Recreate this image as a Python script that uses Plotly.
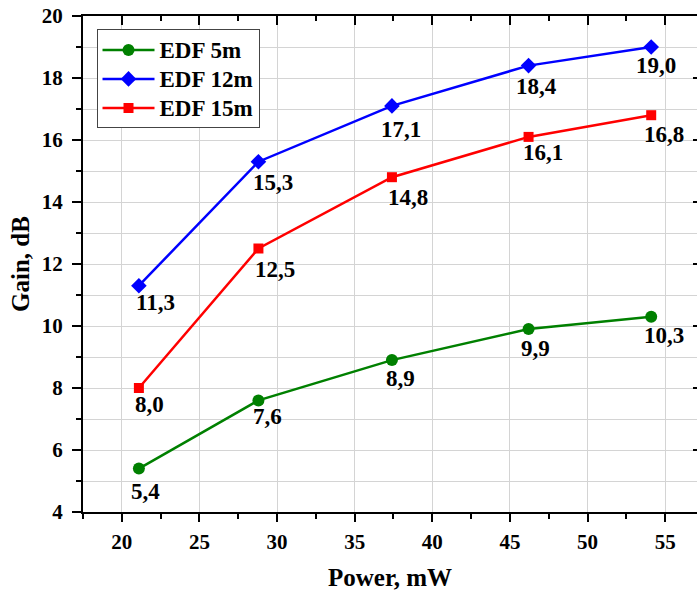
import plotly.graph_objects as go

# Pump power (mW) and measured gain (dB) for three erbium-doped fibre lengths
power_mw = [21.1, 28.8, 37.4, 46.2, 54.1]
gain_5m = [5.4, 7.6, 8.9, 9.9, 10.3]
gain_12m = [11.3, 15.3, 17.1, 18.4, 19.0]
gain_15m = [8.0, 12.5, 14.8, 16.1, 16.8]

series_names = ["EDF 5m", "EDF 12m", "EDF 15m"]
series_values = [gain_5m, gain_12m, gain_15m]

# Styling per series: colour, marker symbol, marker size
series_style = {
    "EDF 5m": ("#008000", "circle", 12),
    "EDF 12m": ("#0000FF", "diamond", 12),
    "EDF 15m": ("#FF0000", "square", 10),
}

# Hand-placed value labels: (horizontal, vertical) pixel nudges from each point
label_nudge = {
    "EDF 5m": [(7, 17), (9, 11), (9, 13), (7, 14), (13, 13)],
    "EDF 12m": [(17, 11), (15, 15), (9, 18), (8, 15), (5, 13)],
    "EDF 15m": [(11, 11), (17, 15), (16, 15), (14, 10), (13, 14)],
}

FONT = "Liberation Serif, Times New Roman, serif"
X_RANGE = [17.5, 57.05]
Y_RANGE = [4, 20]
GRID = "#d4d4d4"

fig = go.Figure()

for name, values in zip(series_names, series_values):
    color, symbol, size = series_style[name]
    fig.add_trace(go.Scatter(
        x=power_mw, y=values, mode="lines+markers",
        # legend rows are spaced by legend.font; the entry text is set a bit larger
        name=f'<span style="font-size:23px">{name}</span>',
        line=dict(color=color, width=2.5),
        marker=dict(color=color, symbol=symbol, size=size, line=dict(width=0)),
    ))

# Invisible trace so the mirrored (top/right) axes are drawn
fig.add_trace(go.Scatter(x=[], y=[], xaxis="x2", yaxis="y2",
                         showlegend=False, hoverinfo="skip"))

# Value labels under each point, decimal comma
annotations = []
for name, values in zip(series_names, series_values):
    for (xv, yv), (dx, dy) in zip(zip(power_mw, values), label_nudge[name]):
        annotations.append(dict(
            x=xv, y=yv, xref="x", yref="y",
            text=f"{yv:.1f}".replace(".", ","),
            showarrow=False, xanchor="center", yanchor="top",
            xshift=dx, yshift=-(dy - 9),
            font=dict(family=FONT, size=23, color="black", weight="bold"),
        ))

tick_font = dict(family=FONT, size=21, color="black", weight="bold")
title_font = dict(family=FONT, size=25, color="black", weight="bold")

fig.update_layout(
    width=697, height=594,
    margin=dict(l=83, r=0, t=16, b=82),
    paper_bgcolor="white", plot_bgcolor="white",
    annotations=annotations,
    xaxis=dict(
        range=X_RANGE, tick0=20, dtick=5,
        showline=True, linecolor="black", linewidth=2,
        ticks="outside", ticklen=8, tickwidth=2, tickcolor="black",
        minor=dict(ticks="outside", ticklen=5, tickwidth=2, tickcolor="black",
                   dtick=2.5, tick0=17.5, showgrid=False),
        showgrid=True, gridcolor=GRID, gridwidth=1,
        zeroline=False, tickfont=tick_font, ticklabelstandoff=2,
        title=dict(text="Power, mW", font=title_font, standoff=15),
    ),
    yaxis=dict(
        range=Y_RANGE, tick0=4, dtick=2,
        showline=True, linecolor="black", linewidth=2,
        ticks="outside", ticklen=9, tickwidth=2, tickcolor="black",
        minor=dict(ticks="outside", ticklen=5, tickwidth=2, tickcolor="black",
                   dtick=1, showgrid=True, gridcolor=GRID, gridwidth=1),
        showgrid=True, gridcolor=GRID, gridwidth=1,
        zeroline=False, tickfont=tick_font, ticklabelstandoff=5,
        title=dict(text="Gain, dB", font=title_font, standoff=5),
    ),
    xaxis2=dict(
        range=X_RANGE, overlaying="x", side="top", anchor="y2",
        tick0=20, dtick=5, showticklabels=False,
        showline=True, linecolor="black", linewidth=2,
        ticks="inside", ticklen=9, tickwidth=2, tickcolor="black",
        minor=dict(ticks="inside", ticklen=5, tickwidth=2, tickcolor="black",
                   dtick=2.5, tick0=17.5, showgrid=False),
        showgrid=False, zeroline=False,
    ),
    yaxis2=dict(
        range=Y_RANGE, overlaying="y", side="right", anchor="x2",
        tick0=4, dtick=2, showticklabels=False, showline=False,
        ticks="inside", ticklen=4, tickwidth=2, tickcolor="black",
        showgrid=False, zeroline=False,
    ),
    legend=dict(
        x=0.022, y=0.973, xanchor="left", yanchor="top",
        bgcolor="white", bordercolor="#444444", borderwidth=1,
        font=dict(family=FONT, size=20, color="black", weight="bold"),
        itemwidth=52, tracegroupgap=0,
    ),
    showlegend=True,
)

fig.write_html("out.html")
